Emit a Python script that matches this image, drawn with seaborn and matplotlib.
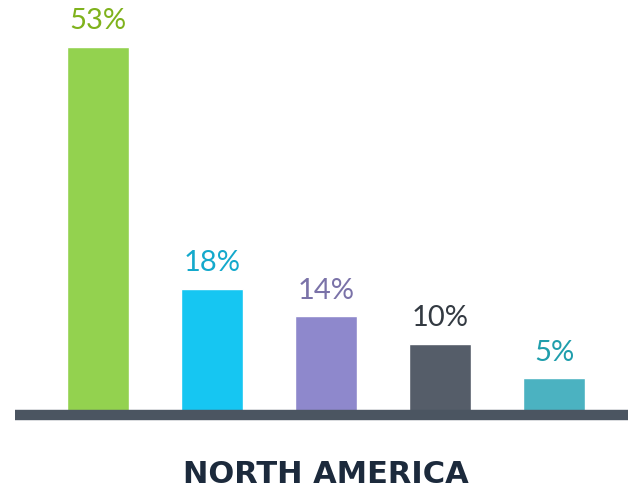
import matplotlib
matplotlib.use("Agg")
import matplotlib.pyplot as plt
import seaborn as sns
import pandas as pd

categories = ["Segment 1", "Segment 2", "Segment 3", "Segment 4", "Segment 5"]
values = [53, 18, 14, 10, 5]
labels = ["53%", "18%", "14%", "10%", "5%"]
bar_colors = ["#93d24f", "#16c6f2", "#8e88cc", "#555d69", "#4bb2c1"]
label_colors = ["#7fb21c", "#14a9cc", "#7a72a8", "#333a42", "#1f9eac"]
title = "NORTH AMERICA"

sns.set_theme(style="white")
plt.rcParams["font.family"] = ["Lato", "DejaVu Sans"]

df = pd.DataFrame({"cat": categories, "val": values})

fig = plt.figure(figsize=(6.28, 4.9), dpi=100)
ax = fig.add_axes([0, 0, 1, 1])
sns.barplot(data=df, x="cat", y="val", hue="cat", palette=bar_colors,
            width=0.54, legend=False, ax=ax, saturation=1, zorder=2)

ax.set_xlim(-0.86, 4.649)
ax.set_ylim(-11.16, 59.8)
ax.axis("off")

ax.axhline(-0.3, xmin=15 / 628, xmax=1, color="#4b5561", lw=7.5, zorder=3,
           solid_capstyle="butt")

for i, (v, lab, c) in enumerate(zip(values, labels, label_colors)):
    ax.annotate(lab, (i, v), xytext=(0, 9), textcoords="offset points",
                ha="center", va="bottom", fontsize=21, color=c,
                fontweight="normal")

fig.text(326 / 628, 1 - 474 / 490, title, ha="center", va="center",
         fontsize=22, fontweight="bold", color="#1c2a3c",
         family=["DejaVu Sans"])

fig.savefig("out.png", dpi=100)
